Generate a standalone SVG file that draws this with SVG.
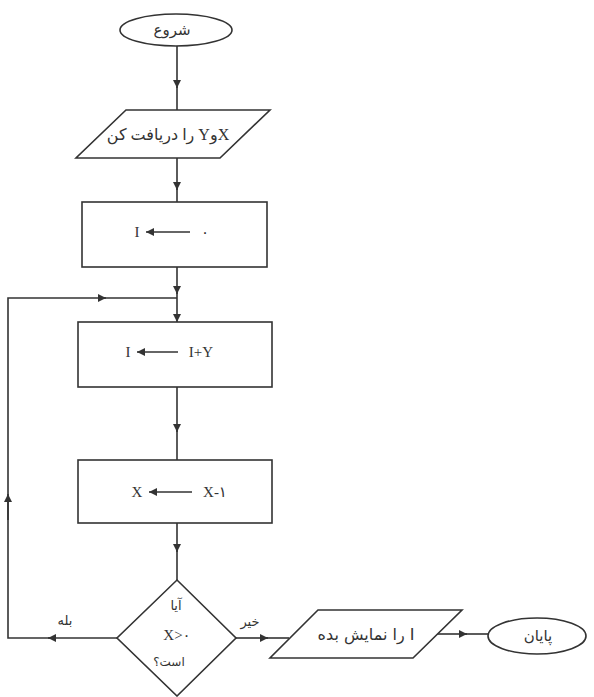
<svg xmlns="http://www.w3.org/2000/svg" width="594" height="697" viewBox="0 0 594 697">
<defs>
<style>
.s{fill:#fff;stroke:#333;stroke-width:1.6}
.c{fill:none;stroke:#333;stroke-width:1.6}
.t{font-family:"Liberation Serif","DejaVu Sans",serif;font-size:15px;fill:#333;text-anchor:middle;dominant-baseline:central}
.f{font-family:"DejaVu Sans","Liberation Serif",sans-serif;font-size:14px;fill:#333;text-anchor:middle;dominant-baseline:central}
</style>
<marker id="a" viewBox="0 0 10 10" refX="10" refY="5" markerWidth="5" markerHeight="5" orient="auto"><path d="M0,0L10,5L0,10z" fill="#333"/></marker>
</defs>
<rect width="594" height="697" fill="#fff"/>
<g id="connectors">
<path class="c" d="M177,46V88" marker-end="url(#a)"/><path class="c" d="M177,86V110"/>
<path class="c" d="M177,158V190" marker-end="url(#a)"/><path class="c" d="M177,188V202"/>
<path class="c" d="M177,267V294" marker-end="url(#a)"/><path class="c" d="M177,292V322" marker-end="url(#a)"/>
<path class="c" d="M177,387V432" marker-end="url(#a)"/><path class="c" d="M177,430V460"/>
<path class="c" d="M177,523V552" marker-end="url(#a)"/><path class="c" d="M177,550V580"/>
<path class="c" d="M117,638H48" marker-end="url(#a)"/><path class="c" d="M50,638H8V500"/>
<path class="c" d="M8,520V494" marker-end="url(#a)"/><path class="c" d="M8,496V298H106" marker-end="url(#a)"/><path class="c" d="M104,298H177"/>
<path class="c" d="M236,638H268" marker-end="url(#a)"/><path class="c" d="M266,638H289"/>
<path class="c" d="M437,634H467" marker-end="url(#a)"/><path class="c" d="M465,634H488"/>
<text class="f" x="65" y="620" style="font-size:13px">بله</text>
<text class="f" x="250" y="621" style="font-size:13px">خیر</text>
</g>
<g id="start"><ellipse class="s" cx="176" cy="30" rx="56" ry="16"/><text class="f" x="172" y="30" style="font-size:15px">شروع</text></g>
<g id="input"><polygon class="s" points="126,110 270,110 220,158 76,158"/><text class="t" x="168" y="134" direction="rtl" style="font-size:16px">XوY را دریافت کن</text></g>
<g id="init"><rect class="s" x="82" y="202" width="185" height="65"/><text class="t" x="137" y="232">I</text><path class="c" d="M190,232H146" marker-end="url(#a)"/><text class="t" x="205" y="232">٠</text></g>
<g id="add"><rect class="s" x="78" y="322" width="194" height="65"/><text class="t" x="128" y="352">I</text><path class="c" d="M178,352H137" marker-end="url(#a)"/><text class="t" x="201" y="352">I+Y</text></g>
<g id="dec"><rect class="s" x="78" y="460" width="194" height="63"/><text class="t" x="137" y="492">X</text><path class="c" d="M192,492H149" marker-end="url(#a)"/><text class="t" x="215" y="492">X-۱</text></g>
<g id="decision"><polygon class="s" points="177,580 236,638 177,696 117,638"/><text class="f" x="176" y="605" style="font-size:13px">آیا</text><text class="t" x="177" y="635">X&gt;۰</text><text class="f" x="169" y="662" style="font-size:12px">است؟</text></g>
<g id="output"><polygon class="s" points="318,610 462,610 413,658 270,658"/><text class="f" x="366" y="634" direction="rtl" style="font-size:16px">I را نمایش بده</text></g>
<g id="end"><ellipse class="s" cx="537" cy="636" rx="49" ry="18"/><text class="f" x="538" y="636" style="font-size:15px">پایان</text></g>
</svg>
